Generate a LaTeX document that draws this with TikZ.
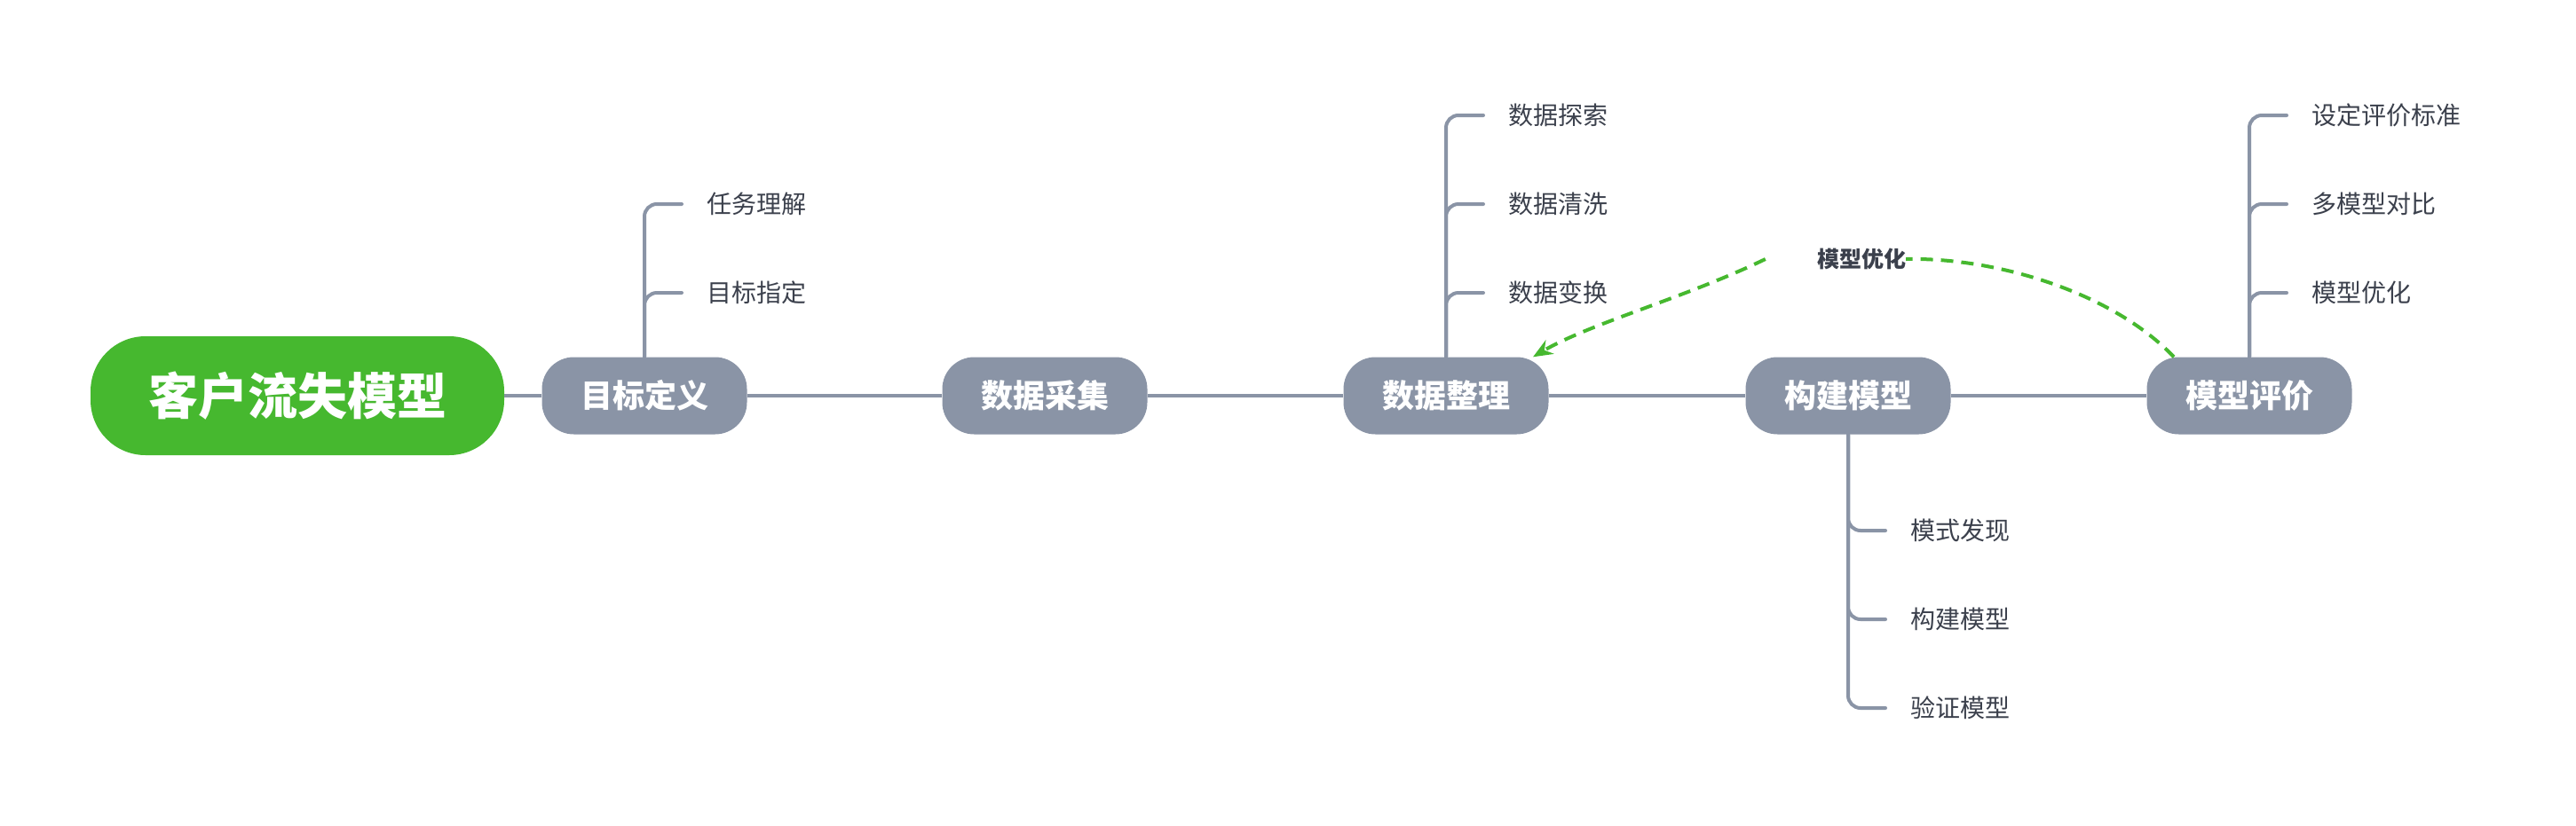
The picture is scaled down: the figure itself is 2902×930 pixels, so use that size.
\documentclass[tikz,border=0pt]{standalone}
\usepackage{fontspec}
\setmainfont{Noto Sans CJK SC}
\usetikzlibrary{arrows.meta}

\definecolor{rootgreen}{HTML}{46B82F}
\definecolor{stagegray}{HTML}{8A94A6}
\definecolor{leaftext}{HTML}{3B404C}

\tikzset{
  root/.style={fill=rootgreen, text=white, rounded corners=62pt, minimum width=466pt, minimum height=134pt, font=\fontsize{56}{56}\selectfont\bfseries},
  stage/.style={fill=stagegray, text=white, rounded corners=36pt, minimum width=231pt, minimum height=87pt, font=\fontsize{36}{36}\selectfont\bfseries},
  leaf/.style={anchor=west, text=leaftext, inner sep=0pt, font=\fontsize{28}{28}\selectfont},
  link/.style={draw=stagegray, line width=4pt},
  twig/.style={draw=stagegray, line width=4pt, rounded corners=14pt, line cap=round},
  feedback/.style={draw=rootgreen, line width=4pt, dash pattern=on 14pt off 9pt}
}

\begin{document}
\begin{tikzpicture}[x=1pt, y=-1pt]

    % Canvas
    \useasboundingbox (0,0) rectangle (2902,930);

    % Main stages
    \node[root] (churn) at (335,446) {客户流失模型};
    \node[stage] (goal) at (726,446) {目标定义};
    \node[stage] (collect) at (1177,446) {数据采集};
    \node[stage] (prep) at (1629,446) {数据整理};
    \node[stage] (build) at (2082,446) {构建模型};
    \node[stage] (eval) at (2534,446) {模型评价};

    % Main line
    \draw[link] (churn) -- (goal) -- (collect) -- (prep) -- (build) -- (eval);

    % Goal definition leaves
    \node[leaf] (task) at (796,230) {任务理解};
    \node[leaf] (target) at (796,330) {目标指定};
    \foreach \l in {task,target}
      \draw[twig] (goal.north) |- ([xshift=-28pt]\l.west);

    % Data preparation leaves
    \node[leaf] (explore) at (1699,130) {数据探索};
    \node[leaf] (clean) at (1699,230) {数据清洗};
    \node[leaf] (transform) at (1699,330) {数据变换};
    \foreach \l in {explore,clean,transform}
      \draw[twig] (prep.north) |- ([xshift=-28pt]\l.west);

    % Model building leaves
    \node[leaf] (pattern) at (2152,598) {模式发现};
    \node[leaf] (model) at (2152,698) {构建模型};
    \node[leaf] (verify) at (2152,798) {验证模型};
    \foreach \l in {pattern,model,verify}
      \draw[twig] (build.south) |- ([xshift=-28pt]\l.west);

    % Model evaluation leaves
    \node[leaf] (criteria) at (2604,130) {设定评价标准};
    \node[leaf] (compare) at (2604,230) {多模型对比};
    \node[leaf] (optimize) at (2604,330) {模型优化};
    \foreach \l in {criteria,compare,optimize}
      \draw[twig] (eval.north) |- ([xshift=-28pt]\l.west);

    % Feedback loop
    \node[text=leaftext, inner sep=0pt, font=\fontsize{25}{25}\selectfont\bfseries] (tune) at (2097,292) {模型优化};
    \draw[feedback] ([xshift=-85pt]eval.north) .. controls (2380,330) and (2250,290) .. (tune.east);
    \draw[feedback, -{Stealth[length=22pt,width=18pt]}] ([xshift=-58pt]tune.west) .. controls (1900,335) and (1790,365) .. ([xshift=98pt]prep.north);

  \end{tikzpicture}
\end{document}
